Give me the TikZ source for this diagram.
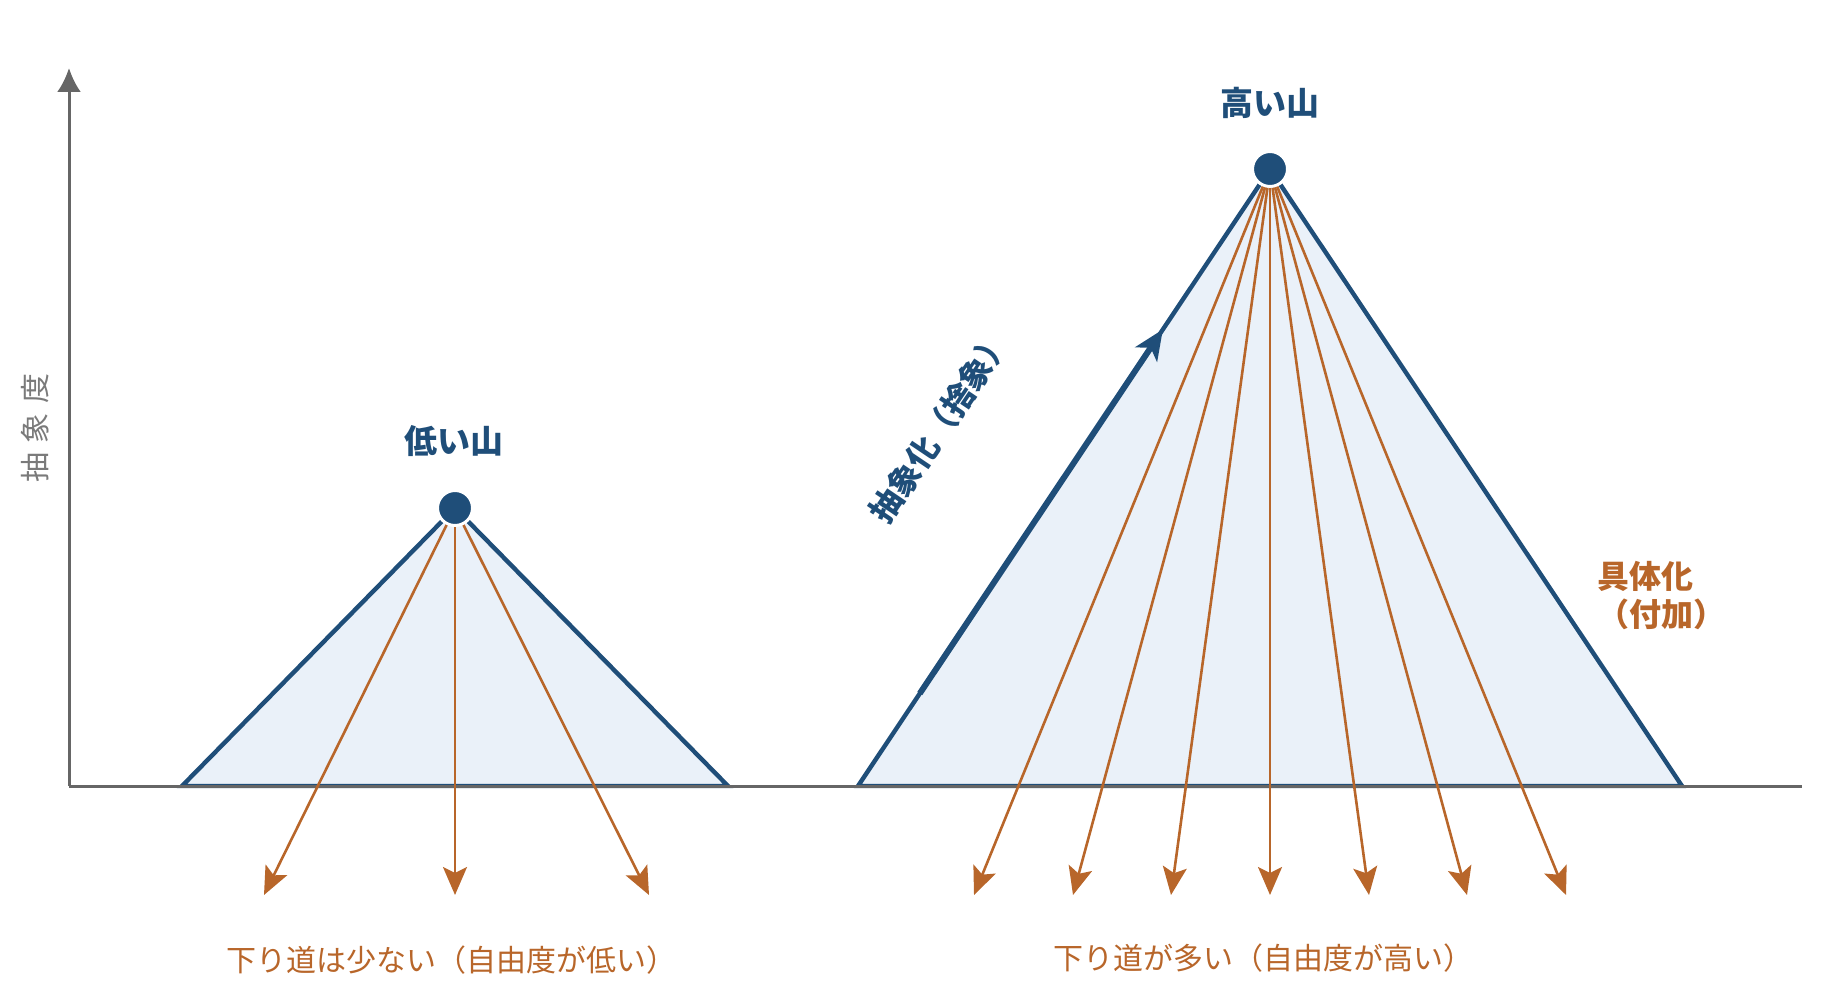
\documentclass[tikz,border=0pt]{standalone}
\usepackage{fontspec}
\setmainfont{Noto Sans CJK JP}
\usetikzlibrary{positioning}
\usetikzlibrary{arrows.meta}
\usetikzlibrary{calc}
\definecolor{mtblue}{HTML}{1F4E79}
\definecolor{mtorange}{HTML}{B8662A}
\definecolor{mtfill}{HTML}{EAF1F9}
\definecolor{axisgray}{HTML}{666666}
\definecolor{labelgray}{HTML}{7A7A7A}
\tikzset{tipdown/.tip={Stealth[length=14pt, width=12pt, inset=3pt]}}
\tikzset{mount/.style={draw=mtblue, fill=mtfill, line width=2.2pt, line join=miter}}
\tikzset{peak/.style={circle, fill=mtblue, draw=white, line width=1.5pt, minimum size=17.5pt, inner sep=0pt}}
\tikzset{down/.style={-tipdown, draw=mtorange, line width=1.3pt}}
\tikzset{axis/.style={draw=axisgray, line width=1.5pt}}
\tikzset{title/.style={text=mtblue, font=\bfseries\fontsize{16.5}{19}\selectfont, inner sep=0pt}}
\tikzset{note/.style={text=mtorange, font=\fontsize{15}{18}\selectfont, inner sep=0pt}}

\begin{document}
\begin{tikzpicture}[x=0.5pt, y=-0.5pt]
        \useasboundingbox (0,0) rectangle (1839,1000);

        \coordinate (origin) at (69,786);
        \coordinate (ytop) at (69,68);
        \coordinate (xend) at (1802,786);

        \coordinate (lowpeak) at (455,508);
        \coordinate (lowl) at (182,786);
        \coordinate (lowr) at (728,786);

        \coordinate (highpeak) at (1270,169);
        \coordinate (highl) at (858,786);
        \coordinate (highr) at (1682,786);

        \draw[mount] (lowl) -- (lowpeak) -- (lowr) -- cycle;
        \draw[mount] (highl) -- (highpeak) -- (highr) -- cycle;

        \draw[axis, -{Latex[length=12pt, width=12pt]}] (origin) -- (ytop);
        \draw[axis] (origin) -- (xend);

        \node[peak] (lowtop) at (lowpeak) {};
        \node[peak] (hightop) at (highpeak) {};

        % few ways down
        \coordinate (lowd1) at (264,895);
        \coordinate (lowd2) at (455,895);
        \coordinate (lowd3) at (649,895);
        \draw[down] (lowtop) -- (lowd1);
        \draw[down] (lowtop) -- (lowd2);
        \draw[down] (lowtop) -- (lowd3);

        % many ways down
        \coordinate (highd1) at (974,895);
        \coordinate (highd2) at (1073,895);
        \coordinate (highd3) at (1171,895);
        \coordinate (highd4) at (1270,895);
        \coordinate (highd5) at (1369,895);
        \coordinate (highd6) at (1467,895);
        \coordinate (highd7) at (1566,895);
        \draw[down] (hightop) -- (highd1);
        \draw[down] (hightop) -- (highd2);
        \draw[down] (hightop) -- (highd3);
        \draw[down] (hightop) -- (highd4);
        \draw[down] (hightop) -- (highd5);
        \draw[down] (hightop) -- (highd6);
        \draw[down] (hightop) -- (highd7);

        \coordinate (climb0) at ($(highl)!0.15!(highpeak)$);
        \coordinate (climb1) at ($(highl)!0.74!(highpeak)$);
        \draw[-{Stealth[length=15pt, width=13pt, inset=4pt]}, draw=mtblue, line width=3pt] (climb0) -- (climb1);

        \node[title] (lowname) at (454,441) {低い山};
        \node[title] (highname) at (1270,103) {高い山};

        \node[text=labelgray, rotate=90, inner sep=0pt, font=\fontsize{15}{18}\selectfont] (ylabel) at (35,428) {抽\hspace{4.8pt}象\hspace{4.8pt}度};

        \node[text=mtblue, rotate=56, inner sep=0pt, font=\bfseries\fontsize{16}{19}\selectfont] (uplabel) at (940,426) {抽象化（捨象）};

        \node[text=mtorange, anchor=west, align=left, inner sep=0pt, font=\bfseries\fontsize{16}{19}\selectfont] (downlabel) at (1597,596) {具体化\\（付加）};

        \node[note] (lownote) at (451,960) {下り道は少ない（自由度が低い）};
        \node[note] (highnote) at (1263,958) {下り道が多い（自由度が高い）};
    \end{tikzpicture}
\end{document}
